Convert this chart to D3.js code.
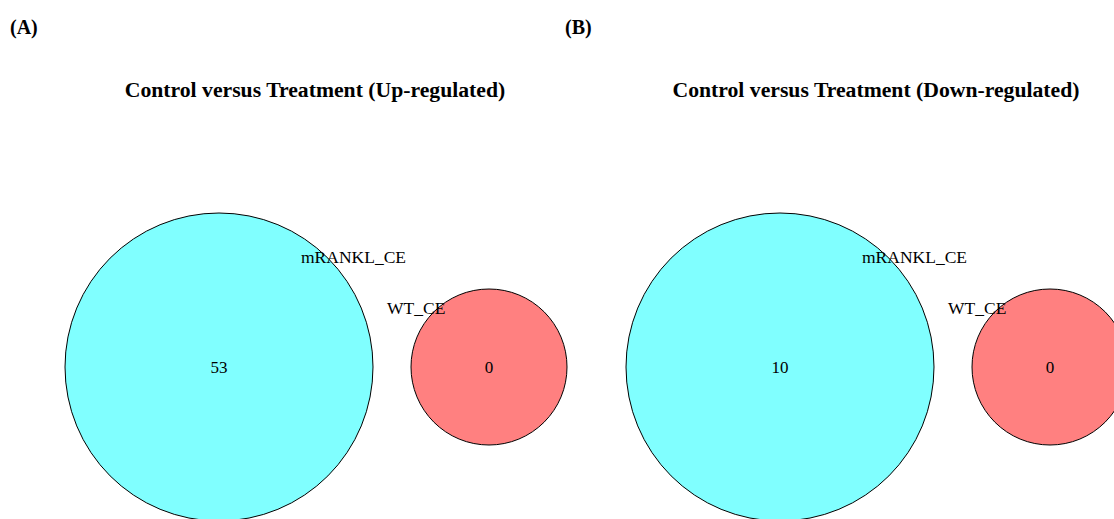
<!DOCTYPE html>
<html><head><meta charset="utf-8">
<script src="https://cdn.jsdelivr.net/npm/d3@7"></script>
<style>html,body{margin:0;padding:0;background:#fff;overflow:hidden}</style>
</head><body>
<svg id="c" width="1114" height="519"></svg>
<script>
const panelLabels = ["(A)", "(B)"];
const titles = ["Control versus Treatment (Up-regulated)", "Control versus Treatment (Down-regulated)"];
const setNames = ["mRANKL_CE", "WT_CE"];
const setColors = ["#80FFFF", "#FF8080"];
const upCounts = [53, 0];
const downCounts = [10, 0];
const panelCounts = [upCounts, downCounts];

const W = 1114, H = 519;
const svg = d3.select("#c");
const font = "'Liberation Serif','Times New Roman',serif";
const panelX = d3.scaleBand().domain([0, 1]).range([0, 1122]);
const labelX = [10, 565];
// relative geometry in a panel
const cx = [219, 489], cy = 367, r = [154, 78];

panelCounts.forEach((counts, i) => {
  svg.append("text").attr("x", labelX[i]).attr("y", 34).text(panelLabels[i])
    .attr("font-family", font).attr("font-weight", "bold").attr("font-size", 20);
  const g = svg.append("g").attr("transform", `translate(${panelX(i)},0)`);
  g.append("text").attr("x", 315).attr("y", 97).attr("text-anchor", "middle").text(titles[i])
    .attr("font-family", font).attr("font-weight", "bold").attr("font-size", 21.7);
  counts.forEach((v, j) => {
    g.append("circle").attr("cx", cx[j]).attr("cy", cy).attr("r", r[j])
      .attr("fill", setColors[j]).attr("stroke", "#000").attr("stroke-width", 1);
  });
  counts.forEach((v, j) => {
    g.append("text").attr("x", cx[j]).attr("y", cy + 6).attr("text-anchor", "middle").text(v)
      .attr("font-family", font).attr("font-size", 17);
  });
  g.append("text").attr("x", 301).attr("y", 263).text(setNames[0])
    .attr("font-family", font).attr("font-size", 17.5);
  g.append("text").attr("x", 387).attr("y", 314).text(setNames[1])
    .attr("font-family", font).attr("font-size", 17.5);
});
</script>
</body></html>
